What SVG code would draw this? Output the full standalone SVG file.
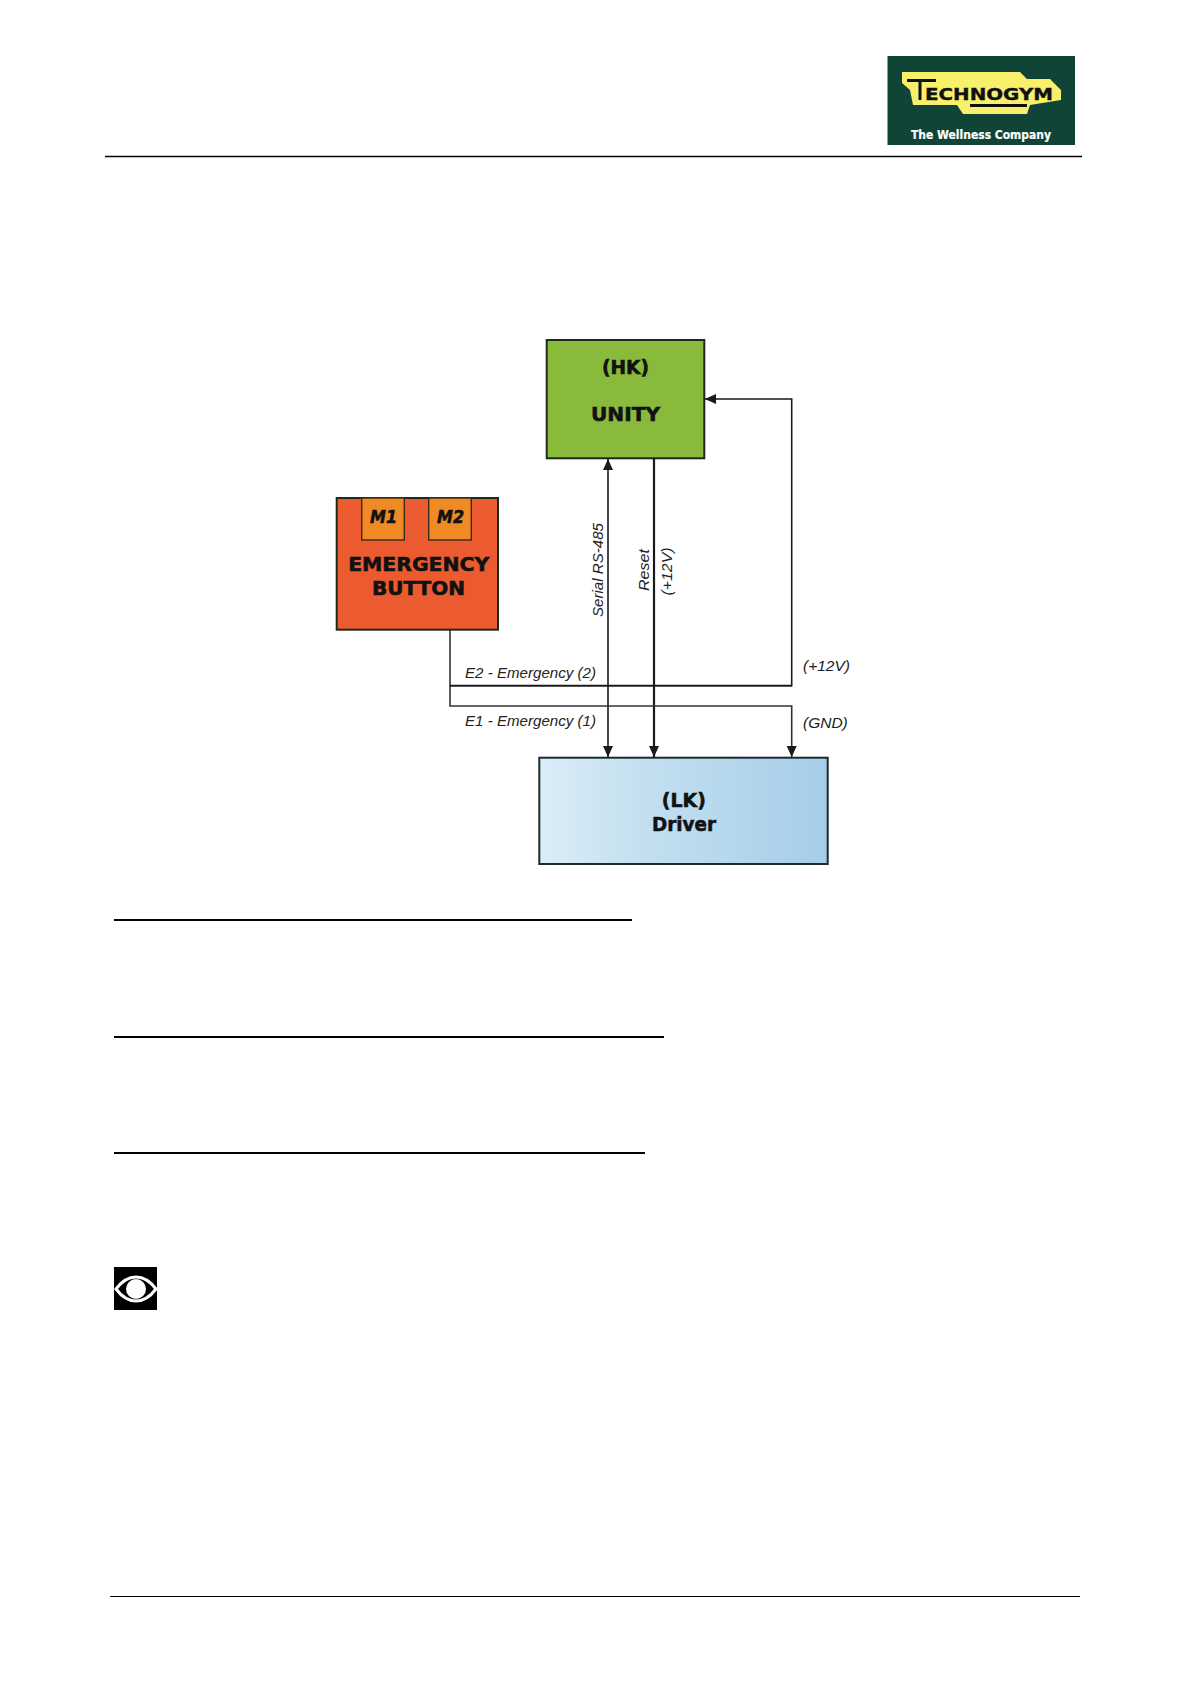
<svg xmlns="http://www.w3.org/2000/svg" width="1191" height="1684" viewBox="0 0 1191 1684">
<style>
.b{fill:none;stroke:#1c2a1c;stroke-width:2}
.t{font-family:"DejaVu Sans",sans-serif;font-weight:bold;fill:#111;stroke:#111;stroke-width:0.6;text-anchor:middle}
.i{font-family:"Liberation Sans",Arial,sans-serif;font-style:italic;font-size:15.5px;fill:#222}
.c{fill:none;stroke:#1a1a1a;stroke-width:1.6}
.r{fill:none;stroke:#000;stroke-width:1.4}
</style>
<defs>
<linearGradient id="g" x1="0" x2="1" y1="0" y2="0"><stop offset="0" stop-color="#dcedf7"/><stop offset="0.35" stop-color="#c4e0f0"/><stop offset="1" stop-color="#a6cde8"/></linearGradient>
<marker id="a" markerUnits="userSpaceOnUse" markerWidth="12" markerHeight="12" refX="11" refY="6" orient="auto-start-reverse"><path d="M0 1L11 6L0 11Z" fill="#1a1a1a"/></marker>
</defs>
<rect width="1191" height="1684" fill="#fff"/>

<g id="logo">
<rect x="887.500" y="56" width="187.500" height="89" fill="#0f4436"/>
<path d="M902 72H1020L1027 79H1050L1061 90V100L1030 105L1027 114H963L957 105H913L910 90L902 83Z" fill="#f7f06a"/>
<path d="M907 80.500H936M920 80.500V100M970 105.500H1027" fill="none" stroke="#111" stroke-width="3"/>
<text x="925" y="100" font-family="'DejaVu Sans',sans-serif" font-weight="bold" font-size="16.500" fill="#111" stroke="#111" stroke-width="0.4" textLength="128" lengthAdjust="spacingAndGlyphs">ECHNOGYM</text>
<text x="981" y="139" font-family="'DejaVu Sans',sans-serif" font-weight="bold" font-size="11.500" fill="#fff" stroke="#fff" stroke-width="0.2" text-anchor="middle" textLength="140" lengthAdjust="spacingAndGlyphs">The Wellness Company</text>
</g>
<line id="header-rule" class="r" x1="105" y1="156.500" x2="1082" y2="156.500"/>

<g id="hk">
<rect class="b" x="546.700" y="340" width="157.600" height="118.300" style="fill:#8aba3c"/>
<text class="t" x="625.500" y="374" font-size="20" textLength="47" lengthAdjust="spacingAndGlyphs">(HK)</text>
<text class="t" x="625.500" y="421" font-size="20" textLength="69" lengthAdjust="spacingAndGlyphs">UNITY</text>
</g>
<g id="emergency">
<rect class="b" x="336.700" y="498" width="161.300" height="131.700" style="fill:#ec5a2f"/>
<text class="t" x="418.700" y="571" font-size="20" textLength="141" lengthAdjust="spacingAndGlyphs">EMERGENCY</text>
<text class="t" x="418.500" y="595" font-size="20" textLength="93" lengthAdjust="spacingAndGlyphs">BUTTON</text>
</g>
<g id="m1">
<rect x="361.700" y="498" width="42.600" height="42" fill="#f08a25" stroke="#3a2a1a" stroke-width="1.400"/>
<text class="t" x="383.500" y="523" font-size="17.500" font-style="italic" textLength="27" lengthAdjust="spacingAndGlyphs">M1</text>
</g>
<g id="m2">
<rect x="428.700" y="498" width="42.600" height="42" fill="#f08a25" stroke="#3a2a1a" stroke-width="1.400"/>
<text class="t" x="450.500" y="523" font-size="17.500" font-style="italic" textLength="27" lengthAdjust="spacingAndGlyphs">M2</text>
</g>
<g id="lk">
<rect x="539.300" y="757.700" width="288.400" height="106.300" fill="url(#g)" stroke="#1c2a30" stroke-width="2"/>
<text class="t" x="683.800" y="807" font-size="20" textLength="44" lengthAdjust="spacingAndGlyphs">(LK)</text>
<text class="t" x="684" y="831" font-size="20" textLength="64" lengthAdjust="spacingAndGlyphs">Driver</text>
</g>

<g id="connectors">
<path class="c" d="M608 459V757" marker-start="url(#a)" marker-end="url(#a)"/>
<path class="c" d="M654 458V757" style="stroke-width:2.200" marker-end="url(#a)"/>
<path class="c" d="M450 630V706H791.700V757" style="stroke:#333" marker-end="url(#a)"/>
<path class="c" d="M450 685.700H791.700" style="stroke-width:2"/>
<path class="c" d="M791.700 686.500V399H705" marker-end="url(#a)"/>
</g>
<g id="labels">
<text class="i" transform="translate(603,617) rotate(-90)" textLength="94" lengthAdjust="spacingAndGlyphs">Serial RS-485</text>
<text class="i" transform="translate(649,591) rotate(-90)" textLength="42" lengthAdjust="spacingAndGlyphs">Reset</text>
<text class="i" transform="translate(672,595.500) rotate(-90)" textLength="48" lengthAdjust="spacingAndGlyphs">(+12V)</text>
<text class="i" x="465" y="678" textLength="131" lengthAdjust="spacingAndGlyphs">E2 - Emergency (2)</text>
<text class="i" x="465" y="726" textLength="131" lengthAdjust="spacingAndGlyphs">E1 - Emergency (1)</text>
<text class="i" x="803" y="671">(+12V)</text>
<text class="i" x="803" y="728">(GND)</text>
</g>

<line class="r" x1="114" y1="920" x2="632" y2="920" style="stroke-width:1.800"/>
<line class="r" x1="114" y1="1037" x2="664" y2="1037" style="stroke-width:1.800"/>
<line class="r" x1="114" y1="1153" x2="645" y2="1153" style="stroke-width:1.800"/>

<g id="eye-icon">
<rect x="114" y="1267" width="43" height="43" fill="#000"/>
<path d="M116 1289C128 1273 144 1273 156 1289C144 1305 128 1305 116 1289Z" fill="none" stroke="#fff" stroke-width="3"/>
<circle cx="136" cy="1289" r="10" fill="#fff"/>
</g>
<line id="footer-rule" class="r" x1="110" y1="1596.500" x2="1080" y2="1596.500" style="stroke-width:1"/>
</svg>
